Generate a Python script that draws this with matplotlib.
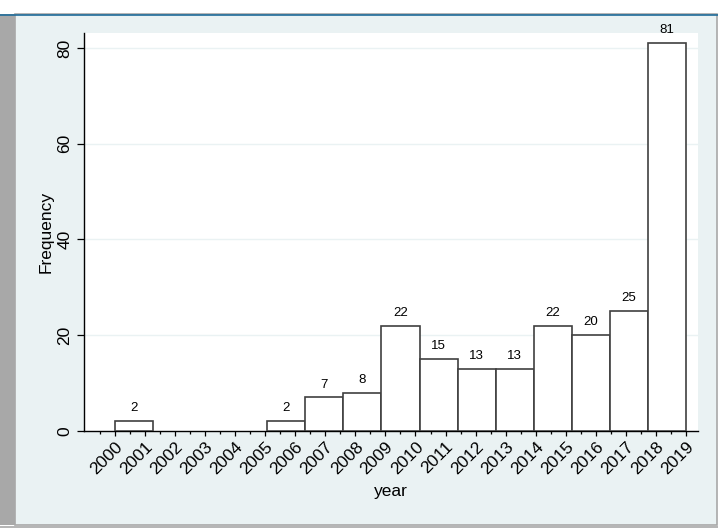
"""
Histogram of publications per year (Stata-like look)
"""

import numpy as np
import matplotlib.pyplot as plt
from matplotlib.patches import Rectangle

plt.rcParams['font.family'] = ['Liberation Sans', 'DejaVu Sans']

# histogram: 15 bins from 2000 to 2019
bin_start = 2000
bin_end = 2019
bin_counts = [2, 0, 0, 0, 2, 7, 8, 22, 15, 13, 13, 22, 20, 25, 81]
year_ticks = list(range(2000, 2020))
y_ticks = [0, 20, 40, 60, 80]

bg = '#eaf2f3'
W, H = 718, 528

fig = plt.figure(figsize=(W / 100, H / 100), dpi=100)
fig.patch.set_facecolor('white')

# outer frame pieces (graph region)
fig.patches.append(Rectangle((15 / W, 3 / H), 702 / W, 511 / H, transform=fig.transFigure,
                             facecolor=bg, edgecolor='#a8a8a8', linewidth=1.2, zorder=-10))
fig.patches.append(Rectangle((0, 3 / H), 15 / W, 511 / H, transform=fig.transFigure,
                             facecolor='#a8a8a8', edgecolor='none', zorder=-9))
fig.add_artist(plt.Line2D([0, 1], [1 - 14.5 / H, 1 - 14.5 / H], transform=fig.transFigure,
                          color='#1f6b99', linewidth=1.2))
fig.add_artist(plt.Line2D([0, 1], [0.6 / H, 0.6 / H], transform=fig.transFigure,
                          color='#a8a8a8', linewidth=1.2))

ax = fig.add_axes([84 / W, 1 - 431 / H, (698 - 84) / W, (431 - 33) / H])
ax.set_facecolor('white')

edges = np.linspace(bin_start, bin_end, len(bin_counts) + 1)
width = edges[1] - edges[0]
for left, c in zip(edges[:-1], bin_counts):
    if c == 0:
        continue
    ax.bar(left, c, width=width, align='edge', color='white', edgecolor='#404040',
           linewidth=1.2, zorder=3)
    ax.annotate(str(c), (left + width / 2, c), xytext=(0, 5), textcoords='offset points',
                ha='center', va='bottom', fontsize=9.5, zorder=4)

ax.set_xlim(1998.97, 2019.4)
ax.set_ylim(0, 83.13)

for y in y_ticks[1:]:
    ax.axhline(y, color=bg, linewidth=1.0, zorder=1)

for s in ['top', 'right']:
    ax.spines[s].set_visible(False)
ax.spines['left'].set_linewidth(1.0)
ax.spines['bottom'].set_linewidth(1.0)

ax.set_yticks(y_ticks)
ax.set_yticklabels([str(v) for v in y_ticks], rotation=90, va='center', fontsize=12.5)
ax.tick_params(axis='y', length=5, width=0.9, pad=3.5)

ax.set_xticks(year_ticks)
ax.set_xticks([y + 0.5 for y in year_ticks[:-1]] + [year_ticks[0] - 0.5], minor=True)
ax.set_xticklabels([str(y) for y in year_ticks], rotation=45, ha='right', va='top',
                   rotation_mode='anchor', fontsize=12.5)
ax.tick_params(axis='x', which='major', length=3.6, width=0.9, pad=2.5)
ax.tick_params(axis='x', which='minor', length=2.2, width=0.9)

ax.set_ylabel('Frequency', fontsize=12.5, labelpad=2.5)
ax.set_xlabel('year', fontsize=12.5, labelpad=5)

fig.savefig('out.png', dpi=100, facecolor=fig.get_facecolor())
